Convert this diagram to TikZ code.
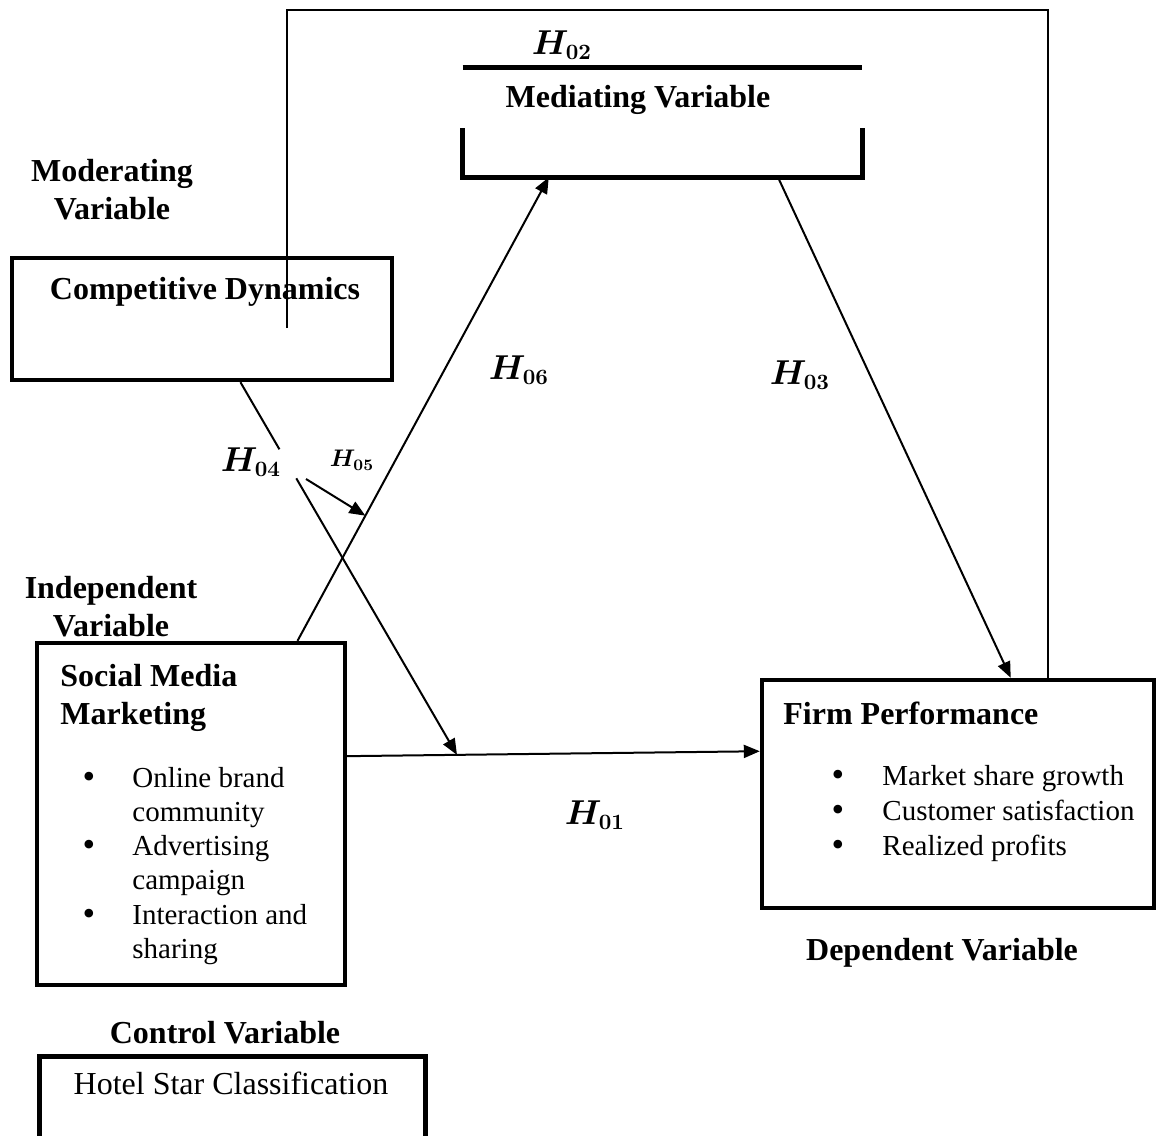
\documentclass[tikz,border=0pt]{standalone}
\usepackage{fontspec}
\setmainfont{Liberation Serif}
\usepackage{bm}
\usetikzlibrary{arrows.meta,calc}
\begin{document}
\begin{tikzpicture}[x=0.5pt, y=-0.5pt,
    box/.style={draw, line width=2.2pt, inner sep=0pt},
    conn/.style={line width=1pt, -{Triangle[length=8pt,width=6.5pt]}},
    txt/.style={font=\fontsize{16}{18}\selectfont, inner sep=0pt},
    item/.style={font=\fontsize{14.5}{17}\selectfont, inner sep=0pt},
    dot/.style={font=\fontsize{18}{18}\selectfont, inner sep=0pt, anchor=base},
    bold/.style={font=\fontsize{16}{19}\selectfont\bfseries, inner sep=0pt},
    hyp/.style={font=\fontsize{16}{18}\selectfont, inner sep=0pt}]
    \useasboundingbox (0,0) rectangle (1156,1135);

    % boxes
    \node[box, minimum width=190pt, minimum height=61pt] (cd) at (202,319) {};
    \node[inner sep=0pt, minimum width=199.5pt, minimum height=54.5pt] (med) at (662.5,122.5) {};
    \draw[line width=2.2pt] (med.north west) -- (med.north east);
    \draw[line width=2.2pt] ($(med.south west)+(0,-49)$) -- (med.south west)
                            -- (med.south east) -- ($(med.south east)+(0,-49)$);
    \node[box, minimum width=154pt, minimum height=171pt] (smm) at (191,814) {};
    \node[box, minimum width=196pt, minimum height=114pt] (fp) at (958,794) {};
    \node[inner sep=0pt, minimum width=192.5pt, minimum height=43pt] (hsc) at (232.5,1100) {};
    \draw[line width=2.2pt] (hsc.south west) -- (hsc.north west) -- (hsc.north east) -- (hsc.south east);

    % titles
    \node[bold] (medt) at (638,100) {Mediating Variable};
    \node[bold, align=center] (modt) at (112,190) {Moderating\\Variable};
    \node[bold] (cdt) at (205,292) {Competitive Dynamics};
    \node[bold, align=center] (indt) at (111,607) {Independent\\Variable};
    \node[bold, align=left, anchor=west] (smmt) at (60,698) {Social Media\\Marketing};
    \node[bold, anchor=west] (fpt) at (783,713) {Firm Performance};
    \node[bold] (dept) at (942,953) {Dependent Variable};
    \node[bold] (ctrlt) at (225,1033) {Control Variable};
    \node[txt] (hsct) at (231,1083) {Hotel Star Classification};

    % indicators (base of a two-line node is its last line)
    \foreach \b/\t [count=\i] in {787/{Online brand\\community}, 855/{Advertising\\campaign},
                                  924/{Interaction and\\sharing}} {
        \node[dot] (smmb\i) at (89,\b+1) {\textbullet};
        \node[item, align=left, anchor=base west] (smmi\i) at (132,\b+34) {\t};
    }
    \foreach \b/\t [count=\i] in {785/Market share growth, 820/Customer satisfaction,
                                  855/Realized profits} {
        \node[dot] (fpb\i) at (838,\b+1) {\textbullet};
        \node[item, anchor=base west] (fpi\i) at (882,\b) {\t};
    }

    % hypotheses
    \coordinate (h1s) at ($(smm.north east)!0.333!(smm.south east)$);
    \coordinate (h1e) at ($(fp.north west)!0.316!(fp.south west)$);
    \draw[conn] (h1s) -- (h1e);

    \coordinate (h6s) at ($(smm.north west)!0.841!(smm.north east)$);
    \coordinate (h6e) at ($(med.south west)!0.2155!(med.south east)$);
    \draw[conn] (h6s) -- (h6e);

    \draw[conn] ($(med.south west)!0.789!(med.south east)$) -- ($(fp.north west)!0.633!(fp.north east)$);

    \coordinate (h4s) at ($(cd.south west)!0.6!(cd.south east)$);
    \coordinate (h4e) at ($(h1s)!0.266!(h1e)$);
    \draw[line width=1pt] (h4s) -- ($(h4s)!0.18!(h4e)$);
    \draw[conn] ($(h4s)!0.258!(h4e)$) -- (h4e);

    \coordinate (h5s) at (306,479);
    \draw[conn] (h5s) -- ($(h6s)!0.27!(h6e)$);

    \coordinate (fbs) at (287,328);
    \coordinate (fbtop) at (287,10);
    \draw[line width=0.8pt] (fbs) -- (fbtop) -| ($(fp.north west)!0.727!(fp.north east)$);

    \node[hyp] (h01) at (595,815) {$\bm{H_{01}}$};
    \node[hyp] (h02) at (562,45) {$\bm{H_{02}}$};
    \node[hyp] (h03) at (800,375) {$\bm{H_{03}}$};
    \node[hyp] (h04) at (251,462) {$\bm{H_{04}}$};
    \node[hyp, font=\fontsize{12}{14}\selectfont] (h05) at (352,460) {$\bm{H_{05}}$};
    \node[hyp] (h06) at (519,370) {$\bm{H_{06}}$};
\end{tikzpicture}
\end{document}
